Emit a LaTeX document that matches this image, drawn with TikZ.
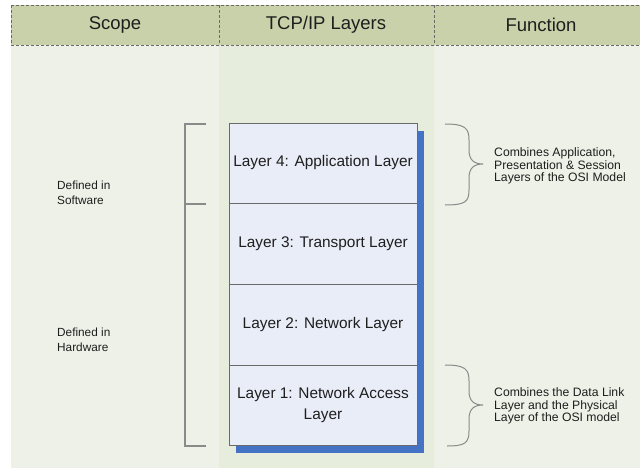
\documentclass[tikz,border=0pt]{standalone}
\usepackage{fontspec}
\setmainfont{Liberation Sans}
\definecolor{hdr}{HTML}{C9D1AA}
\definecolor{bgside}{HTML}{EEF1E7}
\definecolor{bgmid}{HTML}{E6EDDC}
\definecolor{boxfill}{HTML}{E9EDF7}
\definecolor{boxline}{HTML}{6A6A6A}
\definecolor{shadowblue}{HTML}{4472C4}
\definecolor{brk}{HTML}{8A8A8A}
\definecolor{txt}{HTML}{1E1E1E}
\begin{document}
\begin{tikzpicture}[x=1pt,y=-1pt,
  hdrtext/.style={font=\fontsize{18.5}{21}\selectfont, text=txt},
  layerbox/.style={draw=boxline, line width=0.9pt, fill=boxfill, minimum width=188pt, align=center, inner sep=0pt, text=txt, font=\fontsize{15.4}{21}\selectfont},
  sidetext/.style={font=\fontsize{11.8}{15.5}\selectfont, text=txt, align=left, anchor=west, inner sep=0pt},
  functext/.style={font=\fontsize{12.2}{12.6}\selectfont, text=txt, align=left, anchor=west, inner sep=0pt},
  brackline/.style={draw=brk, line width=1.2pt},
  bracestyle/.style={draw=brk, line width=1pt}]
\useasboundingbox (0,0) rectangle (640,468);
\clip (0,0) rectangle (640,468);
% backgrounds
\fill[white] (0,0) rectangle (640,468);
\fill[bgside] (11,45) rectangle (219,468);
\fill[bgmid] (219,45) rectangle (434,468);
\fill[bgside] (434,45) rectangle (640,468);
% header
\fill[hdr] (11,5) rectangle (660,45);
\draw[boxline, line width=0.9pt, dash pattern=on 3pt off 2pt] (11,5) rectangle (660,45);
\draw[boxline, line width=0.9pt, dash pattern=on 3pt off 2pt] (219,5) -- (219,45);
\draw[boxline, line width=0.9pt, dash pattern=on 3pt off 2pt] (434,5) -- (434,45);
\node[hdrtext] (hs) at (115,25) {Scope};
\node[hdrtext] (ht) at (326,25) {TCP/IP Layers};
\node[hdrtext] (hf) at (541,25) {Function};
% shadow
\fill[shadowblue] (236,131) rectangle (424,453);
% layers
\node[layerbox, minimum height=80pt] (l4) at (323,163) {Layer 4: Application Layer};
\node[layerbox, minimum height=81pt] (l3) at (323,243.5) {Layer 3: Transport Layer};
\node[layerbox, minimum height=81pt] (l2) at (323,324.5) {Layer 2: Network Layer};
\node[layerbox, minimum height=80pt] (l1) at (323,405) {Layer 1: Network Access\\Layer};
% left bracket
\coordinate (bt) at (206,124);
\coordinate (bm) at (206,204);
\coordinate (bb) at (206,446);
\draw[brackline] (bt) -- (185,124) -- (185,446) -- (bb);
\draw[brackline] (185,204) -- (bm);
\node[sidetext] (sw) at (57,193) {Defined in\\Software};
\node[sidetext] (hw) at (57,340) {Defined in\\Hardware};
% braces
\draw[bracestyle] (445,124) .. controls (465,124) and (469,128) .. (469,140) -- (469,150) .. controls (469,160) and (474,164) .. (483,164) .. controls (474,164) and (469,168) .. (469,178) -- (469,190) .. controls (469,202) and (465,205) .. (445,205);
\draw[bracestyle] (445,365) .. controls (465,365) and (469,369) .. (469,381) -- (469,391) .. controls (469,401) and (474,405) .. (483,405) .. controls (474,405) and (469,409) .. (469,419) -- (469,431) .. controls (469,443) and (465,446) .. (447,446);
\node[functext] (f1) at (494,166) {Combines Application,\\Presentation \& Session\\Layers of the OSI Model};
\node[functext] (f2) at (494,406) {Combines the Data Link\\Layer and the Physical\\Layer of the OSI model};
\end{tikzpicture}
\end{document}
